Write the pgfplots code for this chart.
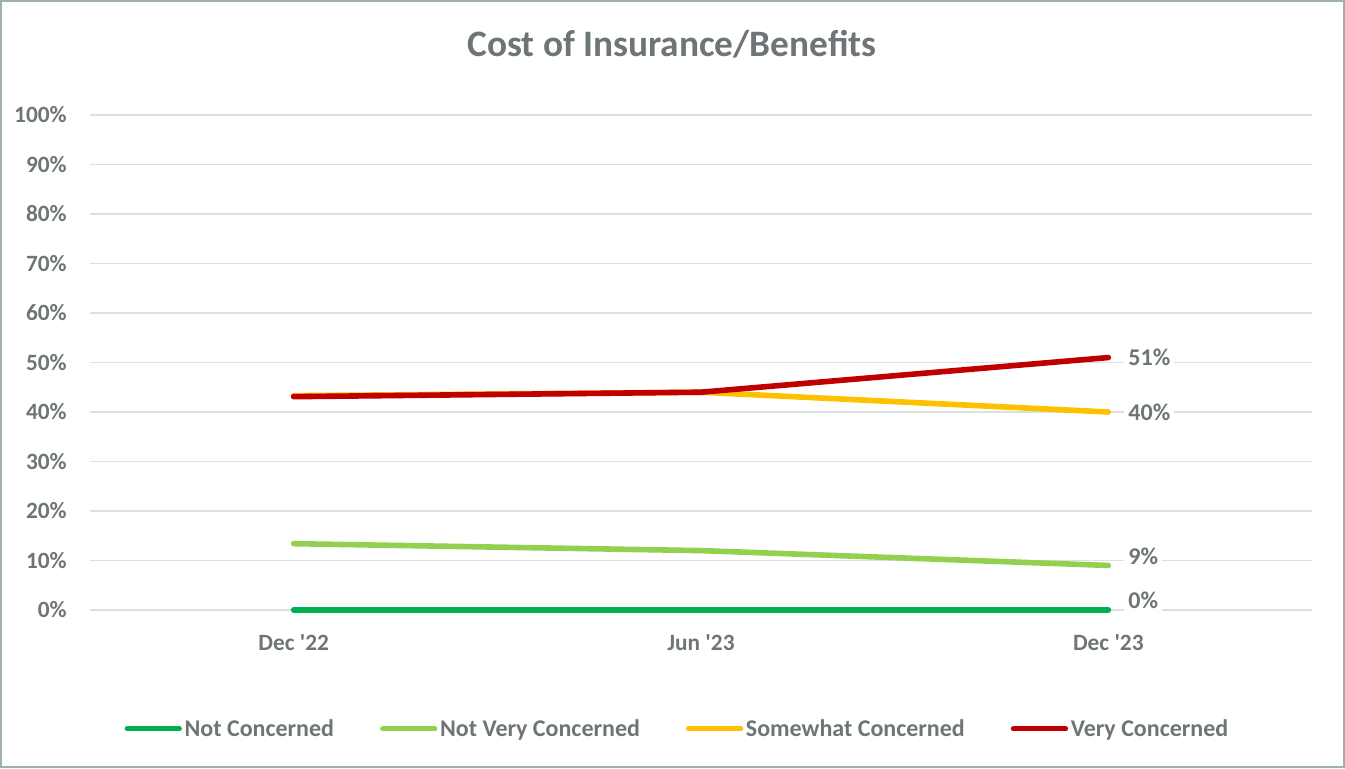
\documentclass[border=0pt]{standalone}
\usepackage{pgfplots}
\pgfplotsset{compat=1.18}
\usepackage{fontspec}
\setmainfont{Carlito}
\definecolor{txt}{RGB}{110,117,119}
\definecolor{gridc}{RGB}{220,225,224}
\definecolor{bord}{RGB}{160,176,172}
\definecolor{cNC}{RGB}{0,176,80}
\definecolor{cNVC}{RGB}{146,208,80}
\definecolor{cSC}{RGB}{255,192,0}
\definecolor{cVC}{RGB}{192,0,0}
\pgfplotstableread{
x nc nvc sc vc
0 0 13.4 43.3 43.1
1 0 12.0 44.0 44.0
2 0 9.0 40.0 51.0
}\datatable
\begin{document}
\begin{tikzpicture}[x=0.75pt,y=0.75pt]
\useasboundingbox (-90,-158) rectangle (1255,610);
\draw[bord, line width=1.5pt] (-89,-157) rectangle (1254,609);
\node[txt, font=\fontsize{28}{32}\selectfont\bfseries] at (582,566) {Cost of Insurance/Benefits};
\begin{axis}[
  at={(0,0)}, anchor=south west,
  scale only axis, width=916.5pt, height=371.25pt,
  xmin=-0.5, xmax=2.5, ymin=0, ymax=100,
  xtick={0,1,2},
  xticklabels={Dec \textquotesingle22, Jun \textquotesingle23, Dec \textquotesingle23},
  ytick={0,10,...,100},
  yticklabel={\pgfmathprintnumber{\tick}\%},
  axis line style={draw=none},
  major tick length=0pt,
  ymajorgrids, grid style={gridc, line width=1.2pt},
  tick label style={txt, font=\fontsize{17.5}{20}\selectfont\bfseries, inner sep=0pt},
  /pgf/number format/assume math mode=true,
  yticklabel style={anchor=east, xshift=-17.25pt},
  xticklabel style={anchor=north, yshift=-18pt},
  legend columns=4,
  legend style={draw=none, fill=none, at={(0.481,-0.24)}, anchor=center,
    font=\fontsize{18}{20}\selectfont\bfseries, text=txt,
    /tikz/every even column/.append style={column sep=32.5pt},
    nodes={inner sep=2pt}},
  legend image code/.code={\draw[line width=4pt, line cap=round] (0pt,0pt) -- (39pt,0pt);},
  every axis plot/.append style={line width=4.2pt, line cap=round, line join=round, mark=none},
  clip=false,
]
\addplot[cNC] table[x=x,y=nc] {\datatable};
\addlegendentry{Not Concerned}
\addplot[cNVC] table[x=x,y=nvc] {\datatable};
\addlegendentry{Not Very Concerned}
\addplot[cSC] table[x=x,y=sc] {\datatable};
\addlegendentry{Somewhat Concerned}
\addplot[cVC] table[x=x,y=vc] {\datatable};
\addlegendentry{Very Concerned}
% data labels at the last point
\pgfplotsset{lbl/.style={draw=none, forget plot, nodes near coords, point meta=explicit symbolic,
  every node near coord/.append style={anchor=west, xshift=10pt, fill=white, inner sep=3pt, text=txt,
  font=\fontsize{18}{20}\selectfont\bfseries}}}
\addplot[lbl, every node near coord/.append style={yshift=7pt}] coordinates {(2,0) [0\%]};
\addplot[lbl, every node near coord/.append style={yshift=7pt}] coordinates {(2,9) [9\%]};
\addplot[lbl] coordinates {(2,40) [40\%]};
\addplot[lbl] coordinates {(2,51) [51\%]};
\end{axis}
\end{tikzpicture}
\end{document}
